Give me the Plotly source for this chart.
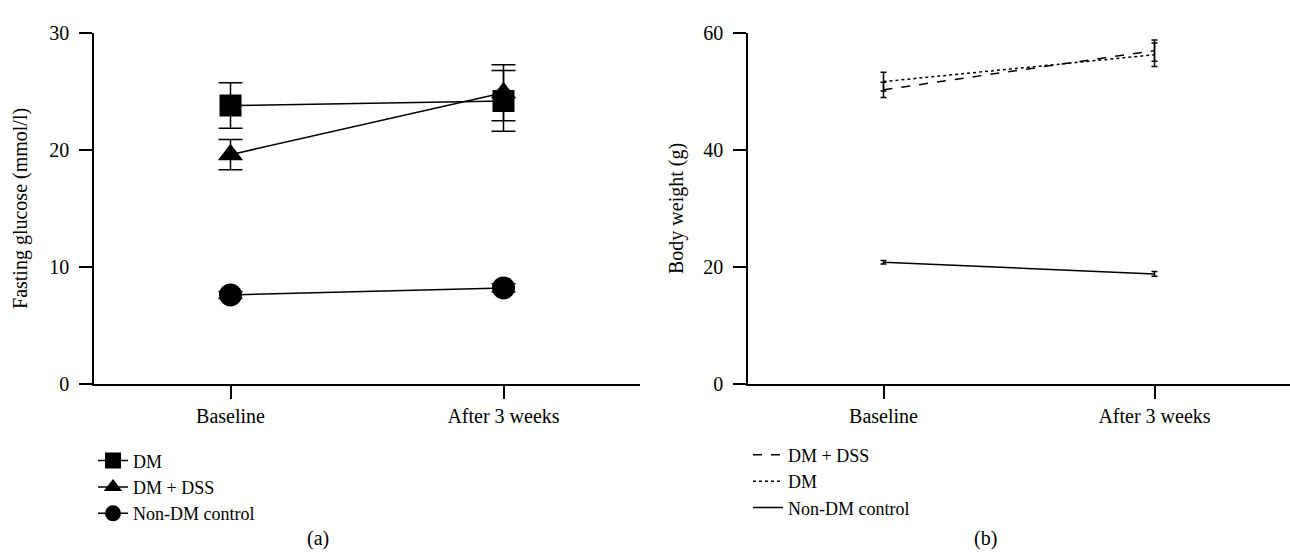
import plotly.graph_objects as go

timepoints = ["Baseline", "After 3 weeks"]

# Panel (a): fasting glucose (mmol/l)
glu_dm = [23.8, 24.2]
glu_dm_err = [1.95, 2.6]
glu_dss = [19.6, 24.9]
glu_dss_err = [1.3, 2.4]
glu_ctrl = [7.6, 8.2]
glu_ctrl_err = [0.3, 0.35]

# Panel (b): body weight (g)
bw_dss = [50.3, 57.0]
bw_dss_err = [1.3, 1.8]
bw_dm = [51.7, 56.3]
bw_dm_err = [1.6, 2.0]
bw_ctrl = [20.8, 18.8]
bw_ctrl_err = [0.3, 0.4]

FONT = "Liberation Serif, DejaVu Serif, Times New Roman, serif"
FS = 20
LFS = 18
BLACK = "#000000"

fig = go.Figure()

def add_a(name, y, err, symbol, size):
    fig.add_trace(go.Scatter(
        x=timepoints, y=y, name=name, mode="lines+markers",
        line=dict(color=BLACK, width=1.5),
        marker=dict(symbol=symbol, size=size, color=BLACK),
        error_y=dict(type="data", array=err, visible=True, color=BLACK, thickness=1.5, width=12),
        xaxis="x", yaxis="y", legend="legend",
    ))

add_a("DM", glu_dm, glu_dm_err, "square", 22)
add_a("DM + DSS", glu_dss, glu_dss_err, "triangle-up", 22)
add_a("Non-DM control", glu_ctrl, glu_ctrl_err, "circle", 23)

def add_b(name, y, err, dash):
    fig.add_trace(go.Scatter(
        x=timepoints, y=y, name=name, mode="lines",
        line=dict(color=BLACK, width=1.5, dash=dash),
        error_y=dict(type="data", array=err, visible=True, color=BLACK, thickness=1.5, width=3),
        xaxis="x2", yaxis="y2", legend="legend2",
    ))

add_b("DM + DSS", bw_dss, bw_dss_err, "dash")
add_b("DM", bw_dm, bw_dm_err, "dot")
add_b("Non-DM control", bw_ctrl, bw_ctrl_err, "solid")

axis_common = dict(
    showline=True, linecolor=BLACK, linewidth=1.5, ticks="outside", ticklen=13,
    tickwidth=1.5, tickcolor=BLACK, showgrid=False, zeroline=False,
    tickfont=dict(family=FONT, size=FS, color=BLACK),
)

ydom = [1 - 388 / 560, 1 - 23 / 560]

fig.update_layout(
    width=1290, height=560,
    margin=dict(l=0, r=0, t=0, b=0),
    paper_bgcolor="white", plot_bgcolor="white",
    font=dict(family=FONT, size=FS, color=BLACK),
    xaxis=dict(domain=[94 / 1290, 640 / 1290], type="category", range=[-0.5, 1.5],
               anchor="y", **axis_common),
    yaxis=dict(domain=ydom, range=[0, 30], tickvals=[0, 10, 20, 30], anchor="x",
               ticklabelstandoff=6,
               title=dict(text="Fasting glucose (mmol/l)", font=dict(family=FONT, size=FS), standoff=16),
               **axis_common),
    xaxis2=dict(domain=[748 / 1290, 1.0], type="category", range=[-0.5, 1.5],
                anchor="y2", **axis_common),
    yaxis2=dict(domain=ydom, range=[0, 60], tickvals=[0, 20, 40, 60], anchor="x2",
                ticklabelstandoff=6,
                title=dict(text="Body weight (g)", font=dict(family=FONT, size=FS), standoff=14),
                **axis_common),
    legend=dict(x=93 / 1290, y=1 - 449 / 560, xanchor="left", yanchor="top",
                font=dict(family=FONT, size=LFS, color=BLACK), bgcolor="rgba(0,0,0,0)",
                tracegroupgap=0, itemwidth=30),
    legend2=dict(x=748 / 1290, y=1 - 443 / 560, xanchor="left", yanchor="top",
                 font=dict(family=FONT, size=LFS, color=BLACK), bgcolor="rgba(0,0,0,0)",
                 tracegroupgap=0, itemwidth=30),
    annotations=[
        dict(text="(a)", x=318 / 1290, y=1 - 549 / 560, xref="paper", yref="paper",
             xanchor="center", yanchor="middle",
             showarrow=False, font=dict(family=FONT, size=FS, color=BLACK)),
        dict(text="(b)", x=985 / 1290, y=1 - 549 / 560, xref="paper", yref="paper",
             xanchor="center", yanchor="middle",
             showarrow=False, font=dict(family=FONT, size=FS, color=BLACK)),
    ],
)

fig.write_html("out.html")
